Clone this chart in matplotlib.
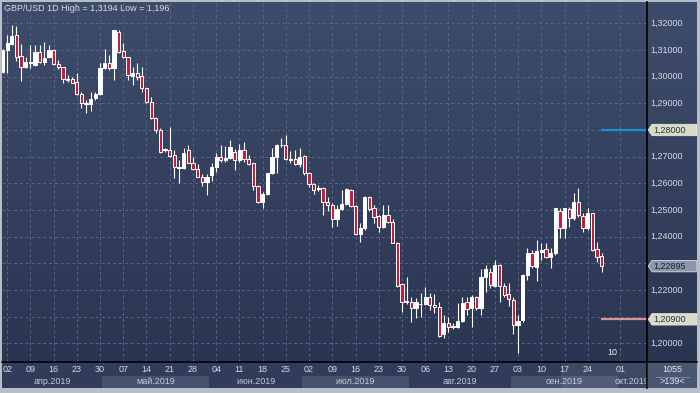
import numpy as np
import pandas as pd
import matplotlib
matplotlib.use("Agg")
import matplotlib.pyplot as plt
from matplotlib.colors import LinearSegmentedColormap
from matplotlib.patches import Polygon, Rectangle
from matplotlib.lines import Line2D

plt.rcParams['font.family'] = ['Liberation Sans', 'DejaVu Sans']

# daily GBP/USD bars, 01.04.2019 - 27.09.2019
opens = [1.3016, 1.3100, 1.3123, 1.3156, 1.3078, 1.3035, 1.3050, 1.3044, 1.3091, 1.3056,
         1.3075, 1.3100, 1.3048, 1.3038, 1.2989, 1.2990, 1.2979, 1.2935, 1.2899, 1.2898,
         1.2919, 1.2935, 1.3031, 1.3050, 1.3031, 1.3169, 1.3096, 1.3073, 1.3002, 1.3012,
         1.3002, 1.2956, 1.2904, 1.2844, 1.2800, 1.2724, 1.2725, 1.2706, 1.2659, 1.2656,
         1.2725, 1.2678, 1.2653, 1.2625, 1.2606, 1.2631, 1.2662, 1.2697, 1.2687, 1.2694,
         1.2719, 1.2687, 1.2725, 1.2690, 1.2675, 1.2590, 1.2531, 1.2560, 1.2637, 1.2700,
         1.2742, 1.2744, 1.2687, 1.2690, 1.2672, 1.2702, 1.2637, 1.2597, 1.2579, 1.2581,
         1.2531, 1.2519, 1.2465, 1.2502, 1.2522, 1.2575, 1.2515, 1.2410, 1.2431, 1.2547,
         1.2506, 1.2477, 1.2437, 1.2481, 1.2456, 1.2377, 1.2222, 1.2155, 1.2156, 1.2131,
         1.2146, 1.2147, 1.2172, 1.2144, 1.2135, 1.2035, 1.2077, 1.2061, 1.2060, 1.2085,
         1.2156, 1.2131, 1.2172, 1.2131, 1.2250, 1.2269, 1.2215, 1.2292, 1.2215, 1.2184,
         1.2162, 1.2069, 1.2087, 1.2256, 1.2340, 1.2287, 1.2341, 1.2354, 1.2325, 1.2337,
         1.2496, 1.2431, 1.2504, 1.2471, 1.2529, 1.2479, 1.2431, 1.2487, 1.2354, 1.2328]
highs = [1.3102, 1.3156, 1.3194, 1.3190, 1.3122, 1.3075, 1.3119, 1.3119, 1.3119, 1.3131,
         1.3119, 1.3102, 1.3063, 1.3038, 1.3006, 1.2998, 1.3015, 1.2944, 1.2913, 1.2944,
         1.2944, 1.3050, 1.3102, 1.3081, 1.3175, 1.3175, 1.3128, 1.3075, 1.3038, 1.3050,
         1.3038, 1.2956, 1.2925, 1.2850, 1.2806, 1.2731, 1.2813, 1.2725, 1.2688, 1.2731,
         1.2744, 1.2700, 1.2672, 1.2635, 1.2635, 1.2677, 1.2712, 1.2744, 1.2740, 1.2762,
         1.2727, 1.2747, 1.2756, 1.2706, 1.2677, 1.2594, 1.2569, 1.2640, 1.2731, 1.2747,
         1.2769, 1.2781, 1.2722, 1.2725, 1.2731, 1.2706, 1.2644, 1.2600, 1.2594, 1.2587,
         1.2550, 1.2525, 1.2519, 1.2575, 1.2581, 1.2577, 1.2519, 1.2450, 1.2552, 1.2552,
         1.2519, 1.2481, 1.2519, 1.2519, 1.2465, 1.2381, 1.2225, 1.2250, 1.2172, 1.2169,
         1.2187, 1.2210, 1.2187, 1.2185, 1.2156, 1.2106, 1.2100, 1.2075, 1.2150, 1.2175,
         1.2175, 1.2181, 1.2177, 1.2277, 1.2294, 1.2281, 1.2312, 1.2296, 1.2225, 1.2225,
         1.2175, 1.2106, 1.2260, 1.2356, 1.2350, 1.2387, 1.2375, 1.2375, 1.2356, 1.2509,
         1.2506, 1.2509, 1.2512, 1.2562, 1.2581, 1.2487, 1.2506, 1.2490, 1.2381, 1.2337]
lows = [1.3015, 1.3012, 1.3119, 1.3060, 1.2985, 1.3031, 1.3031, 1.3041, 1.3050, 1.3044,
        1.3069, 1.3044, 1.3028, 1.2975, 1.2981, 1.2975, 1.2931, 1.2884, 1.2865, 1.2873,
        1.2913, 1.2931, 1.3028, 1.3025, 1.2988, 1.3090, 1.3069, 1.2988, 1.2969, 1.2988,
        1.2944, 1.2900, 1.2840, 1.2788, 1.2715, 1.2719, 1.2700, 1.2619, 1.2602, 1.2652,
        1.2675, 1.2650, 1.2625, 1.2590, 1.2556, 1.2610, 1.2644, 1.2681, 1.2681, 1.2690,
        1.2650, 1.2681, 1.2681, 1.2669, 1.2575, 1.2528, 1.2506, 1.2556, 1.2635, 1.2640,
        1.2737, 1.2687, 1.2675, 1.2669, 1.2662, 1.2631, 1.2587, 1.2560, 1.2572, 1.2481,
        1.2497, 1.2437, 1.2440, 1.2500, 1.2519, 1.2510, 1.2406, 1.2381, 1.2425, 1.2497,
        1.2452, 1.2419, 1.2431, 1.2452, 1.2375, 1.2212, 1.2119, 1.2147, 1.2081, 1.2094,
        1.2100, 1.2144, 1.2125, 1.2112, 1.2025, 1.2019, 1.2044, 1.2052, 1.2056, 1.2081,
        1.2106, 1.2062, 1.2125, 1.2106, 1.2194, 1.2206, 1.2210, 1.2156, 1.2175, 1.2140,
        1.2035, 1.1962, 1.2081, 1.2237, 1.2281, 1.2235, 1.2312, 1.2321, 1.2284, 1.2331,
        1.2394, 1.2394, 1.2437, 1.2462, 1.2475, 1.2419, 1.2425, 1.2346, 1.2304, 1.2269]
closes = [1.3100, 1.3125, 1.3154, 1.3075, 1.3035, 1.3056, 1.3056, 1.3091, 1.3056, 1.3069,
          1.3100, 1.3046, 1.3038, 1.2990, 1.2991, 1.2978, 1.2935, 1.2900, 1.2900, 1.2915,
          1.2935, 1.3031, 1.3050, 1.3031, 1.3175, 1.3094, 1.3073, 1.3006, 1.3012, 1.2998,
          1.2956, 1.2904, 1.2844, 1.2800, 1.2719, 1.2728, 1.2702, 1.2660, 1.2661, 1.2713,
          1.2678, 1.2653, 1.2625, 1.2606, 1.2625, 1.2662, 1.2697, 1.2687, 1.2694, 1.2735,
          1.2687, 1.2725, 1.2690, 1.2672, 1.2590, 1.2531, 1.2560, 1.2637, 1.2700, 1.2744,
          1.2745, 1.2690, 1.2690, 1.2672, 1.2700, 1.2637, 1.2597, 1.2575, 1.2582, 1.2531,
          1.2519, 1.2465, 1.2502, 1.2522, 1.2577, 1.2515, 1.2410, 1.2431, 1.2547, 1.2502,
          1.2475, 1.2437, 1.2481, 1.2456, 1.2377, 1.2215, 1.2156, 1.2157, 1.2131, 1.2156,
          1.2149, 1.2172, 1.2144, 1.2135, 1.2027, 1.2077, 1.2060, 1.2064, 1.2085, 1.2150,
          1.2127, 1.2172, 1.2131, 1.2250, 1.2277, 1.2219, 1.2294, 1.2215, 1.2181, 1.2165,
          1.2069, 1.2085, 1.2256, 1.2340, 1.2290, 1.2347, 1.2350, 1.2325, 1.2337, 1.2506,
          1.2431, 1.2506, 1.2471, 1.2529, 1.2481, 1.2431, 1.2487, 1.2350, 1.2325, 1.22895]

dates = pd.bdate_range('2019-04-01', '2019-09-27')
month_names = ['апр', 'май', 'июн', 'июл', 'авг', 'сен', 'окт']
next_label_date = pd.Timestamp('2019-10-01')   # first label in the empty future area

level_blue = 1.28000
level_red = 1.20900
title = 'GBP/USD 1D High = 1,3194 Low = 1,196'
bars_count_text = '1055'
bars_shown_text = '>139<'

W, H = 700, 393


def frac(x0, y0, x1, y1):
    return [x0 / W, 1 - y1 / H, (x1 - x0) / W, (y1 - y0) / H]


fig = plt.figure(figsize=(7, 3.93), dpi=100, facecolor='#b7bdc9')

# background gradient (chart + price scale)
bg = fig.add_axes(frac(2, 2, 697, 362))
cmap = LinearSegmentedColormap.from_list('bg', ['#3e4c6b', '#2a3551'])
bg.imshow(np.linspace(0, 1, 256).reshape(-1, 1), aspect='auto', cmap=cmap,
          extent=[0, 1, 0, 1])
bg.set_axis_off()

o = np.array(opens)
h = np.array(highs)
l = np.array(lows)
c = np.array(closes)
idx = np.arange(len(o))
last = idx[-1]

step_px = 4.645
x_left = (2 - 2.5) / step_px
x_right = (647 - 2.5) / step_px
y_low, y_high = 1.19300, 1.32799

ax = fig.add_axes(frac(2, 2, 647, 362))
ax.patch.set_alpha(0)
ax.set_xlim(x_left, x_right)
ax.set_ylim(y_low, y_high)
for s in ax.spines.values():
    s.set_visible(False)

# weekly ticks (tuesdays) + first future day at calendar spacing
tick_pos = [i for i, d in enumerate(dates) if d.dayofweek == 1]
tick_lab = [dates[i].strftime('%d') for i in tick_pos]
fut_pos = last + (next_label_date - dates[-1]).days
tick_pos.append(fut_pos)
tick_lab.append(next_label_date.strftime('%d'))

yticks = np.round(np.arange(1.20, 1.3201, 0.01), 2)
ax.set_xticks(tick_pos)
ax.set_yticks(yticks)
ax.tick_params(length=0, labelleft=False, labelbottom=False)
ax.grid(True, color='#56668a', ls=(0, (3, 3)), lw=0.7)
ax.set_axisbelow(True)

up = c >= o
ax.vlines(idx, l, h, color='white', lw=0.8, zorder=2)
ax.bar(idx, np.maximum(np.abs(c - o), 0.00005), bottom=np.minimum(o, c), width=0.7,
       color=np.where(up, 'white', '#c41e3a'), edgecolor='white', lw=0.7, zorder=3)

ax.hlines(level_blue, last - 0.2, x_right, color='#1e90d2', lw=1.6, zorder=4)
ax.hlines(level_red, last - 0.2, x_right, color='#d8939b', lw=1.6, zorder=4)

ax.text(0.946, 0.014, '10', transform=ax.transAxes, color='#e8ecf2', fontsize=6.5,
        ha='center', va='bottom')

# price scale
rax = fig.add_axes(frac(647, 2, 697, 362))
rax.set_xlim(0, 50)
rax.set_ylim(y_low, y_high)
rax.set_axis_off()

markers = [(level_blue, '#d9dcc8', '#2b3140'),
           (c[-1], '#8b96aa', '#1f2533'),
           (level_red, '#d9dcc8', '#2b3140')]
for v in yticks:
    if any(abs(v - m[0]) < 0.004 for m in markers):
        continue
    rax.text(3.5, v, f'{v:.5f}'.replace('.', ','), color='#d5dae3', fontsize=6.5,
             va='center', ha='left')

hh = 0.00215
for p, fc, tc in markers:
    rax.add_patch(Polygon([(1.2, p), (5, p + hh), (50, p + hh), (50, p - hh), (5, p - hh)],
                          closed=True, fc=fc, ec='#eef0e6', lw=0.5, zorder=5))
    rax.text(6.5, p, f'{p:.5f}'.replace('.', ','), color=tc, fontsize=6.5,
             va='center', ha='left', zorder=6)

fig.text(4 / W, 1 - 8.5 / H, title, color='#d6dae2', fontsize=6.5, va='center', ha='left')

# date strip
dax = fig.add_axes(frac(2, 362, 647, 388))
dax.set_xlim(x_left, x_right)
dax.set_ylim(26, 0)
dax.set_axis_off()
dax.add_patch(Rectangle((0, 0), 1, 1, transform=dax.transAxes, fc='#303c59', ec='none'))

month_start = [i for i, d in enumerate(dates) if i == 0 or d.month != dates[i - 1].month]
month_start.append(fut_pos)
bounds = [x_left] + [m - 0.5 for m in month_start[1:]] + [x_right]
for k, name in enumerate(month_names):
    a, b = bounds[k], bounds[k + 1]
    dax.bar(a, 12, bottom=14, width=b - a, align='edge',
            color='#303c59' if k % 2 == 0 else '#45526e', lw=0)
    dax.text((a + b) / 2, 20, f'{name}.2019', color='#c3cad6', fontsize=6.5,
             ha='center', va='center', clip_on=True)

for p, lab in zip(tick_pos, tick_lab):
    dax.text(p, 7.5, lab, color='#d3d8e2', fontsize=6.5, ha='center', va='center',
             clip_on=True)

dax.add_patch(Rectangle(((561 - 2) / 645, 0), (647 - 561) / 645, 1, transform=dax.transAxes,
                        fc='white', alpha=0.07, ec='none'))

# bottom-right counter box
fig.add_artist(Rectangle((648 / W, 1 - 388 / H), 49 / W, 25 / H, transform=fig.transFigure,
                         fc='#4a5772', ec='none'))
fig.text(672 / W, 1 - 369 / H, bars_count_text, color='#e4e8ee', fontsize=6.5,
         ha='center', va='center')
fig.add_artist(Line2D([656 / W, 689 / W], [1 - 376.5 / H] * 2, color='#8090a8', lw=0.6))
fig.text(672 / W, 1 - 381.5 / H, bars_shown_text, color='#e4e8ee', fontsize=6.5,
         ha='center', va='center')

# separators
fig.add_artist(Line2D([2 / W, 697 / W], [1 - 362 / H] * 2, color='black', lw=1.2))
fig.add_artist(Line2D([647 / W] * 2, [1 - 2 / H, 1 - 388 / H], color='black', lw=1.2))

fig.savefig('out.png', dpi=100, facecolor=fig.get_facecolor())
